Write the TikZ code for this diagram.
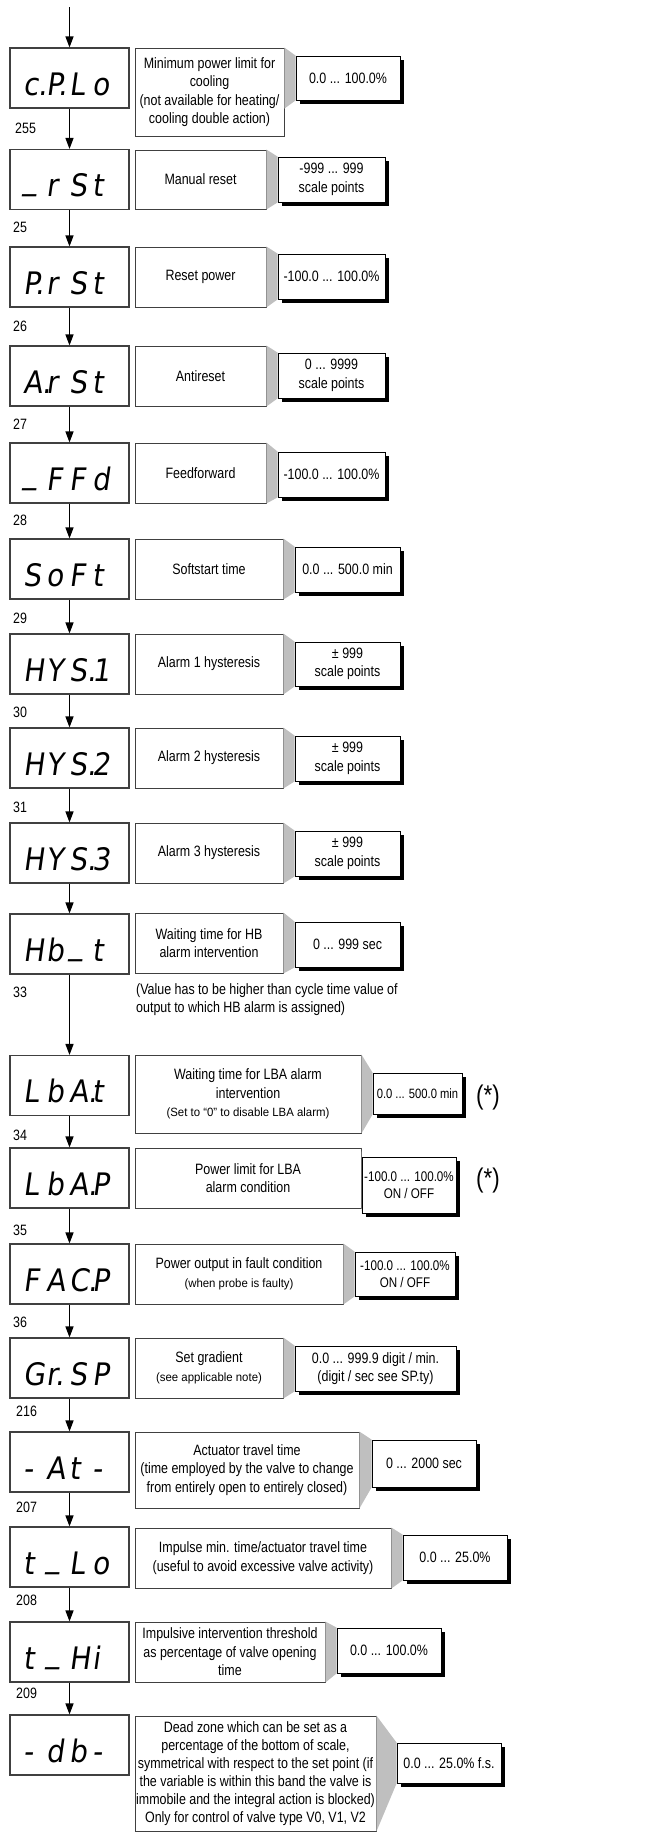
\documentclass[tikz,border=0pt]{standalone}
\usepackage{fontspec}
\setmainfont{Liberation Sans}[FakeStretch=0.83]
\newfontfamily\notefont{Liberation Sans}[FakeStretch=0.95]
\newfontfamily\segfont{DejaVu Sans}[FakeSlant=0.14,FakeStretch=0.9]
\usepackage{tikz}
\usetikzlibrary{arrows.meta,shadows}
\newcommand{\segd}[4]{{\segfont\fontsize{31}{31}\selectfont
  \makebox[23pt][l]{#1}\makebox[23pt][l]{#2}\makebox[23pt][l]{#3}\makebox[23pt][l]{#4}}}
\newcommand{\segbar}{\raisebox{0.22em}{\_}}
\newcommand{\smallnote}{\notefont\fontsize{12}{14}\selectfont}

\begin{document}
\begin{tikzpicture}[x=1pt,y=-1pt,line join=miter,
  disp/.style={draw=black!75,line width=1.1pt,fill=white,minimum width=119pt,minimum height=60pt,inner sep=0pt,text height=34pt,text depth=0pt},
  desc/.style={draw=black!75,line width=0.9pt,fill=white,inner sep=0pt,align=center,font=\fontsize{15}{18.5}\selectfont},
  val/.style={draw=black,line width=0.9pt,fill=white,inner sep=0pt,align=center,font=\fontsize{15}{18.5}\selectfont,
    drop shadow={shadow xshift=3.5pt,shadow yshift=-3.5pt,fill=black,opacity=1}},
  num/.style={anchor=west,inner sep=0pt,font=\fontsize{15}{18}\selectfont},
  link/.style={-{Triangle[length=11pt,width=8pt]},line width=1.3pt},
  wedge/.style={fill=black!25}]
  \useasboundingbox (0,0) rectangle (664,1832);
  \coordinate (entry) at (69.5,7);
  % c.P.Lo
  \node[disp] (d1) at (69.5,78) {\segd{c.}{P.}{L}{o}};
  \node[desc,minimum width=149pt,minimum height=88pt] (t1) at (209.5,92) {Minimum power limit for\\cooling\\(not available for heating/\\cooling double action)};
  \node[val,minimum width=104pt,minimum height=44pt] (v1) at (348,78) {0.0 ... 100.0\%};
  \node[num] (n1) at (15,128) {255};
  % _rSt
  \node[disp] (d2) at (69.5,179.5) {\segd{\segbar}{r}{S}{t}};
  \node[desc,minimum width=131pt,minimum height=59pt] (t2) at (200.5,179.5) {Manual reset};
  \node[val,minimum width=107pt,minimum height=45pt] (v2) at (331.5,179.5) {-999 ... 999\\scale points};
  \node[num] (n2) at (13,227) {25};
  % P.rSt
  \node[disp] (d3) at (69.5,277) {\segd{P.}{r}{S}{t}};
  \node[desc,minimum width=131pt,minimum height=60pt] (t3) at (200.5,277) {Reset power};
  \node[val,minimum width=107pt,minimum height=45pt] (v3) at (331.5,276.5) {-100.0 ... 100.0\%};
  \node[num] (n3) at (13,326) {26};
  % A.rSt
  \node[disp] (d4) at (69.5,376) {\segd{A.}{r}{S}{t}};
  \node[desc,minimum width=131pt,minimum height=60pt] (t4) at (200.5,376) {Antireset};
  \node[val,minimum width=107pt,minimum height=45pt] (v4) at (331.5,375.5) {0 ... 9999\\scale points};
  \node[num] (n4) at (13,424) {27};
  % _FFd
  \node[disp] (d5) at (69.5,473) {\segd{\segbar}{F}{F}{d}};
  \node[desc,minimum width=131pt,minimum height=60pt] (t5) at (200.5,473) {Feedforward};
  \node[val,minimum width=107pt,minimum height=45pt] (v5) at (331.5,474.5) {-100.0 ... 100.0\%};
  \node[num] (n5) at (13,520) {28};
  % SoFt
  \node[disp] (d6) at (69.5,569) {\segd{S}{o}{F}{t}};
  \node[desc,minimum width=148pt,minimum height=60pt] (t6) at (209,569) {Softstart time};
  \node[val,minimum width=105pt,minimum height=45pt] (v6) at (347.5,569.5) {0.0 ... 500.0 min};
  \node[num] (n6) at (13,618) {29};
  % HYS.1 - HYS.3
  \node[disp] (d7) at (69.5,664) {\segd{H}{Y}{S.}{1}};
  \node[desc,minimum width=148pt,minimum height=60pt] (t7) at (209,664) {Alarm 1 hysteresis};
  \node[val,minimum width=105pt,minimum height=44pt] (v7) at (347.5,664) {± 999\\scale points};
  \node[num] (n7) at (13,712) {30};
  \node[disp] (d8) at (69.5,758) {\segd{H}{Y}{S.}{2}};
  \node[desc,minimum width=148pt,minimum height=60pt] (t8) at (209,758) {Alarm 2 hysteresis};
  \node[val,minimum width=105pt,minimum height=45pt] (v8) at (347.5,758.5) {± 999\\scale points};
  \node[num] (n8) at (13,807) {31};
  \node[disp] (d9) at (69.5,853) {\segd{H}{Y}{S.}{3}};
  \node[desc,minimum width=148pt,minimum height=60pt] (t9) at (209,853) {Alarm 3 hysteresis};
  \node[val,minimum width=105pt,minimum height=45pt] (v9) at (347.5,853.5) {± 999\\scale points};
  % Hb_t
  \node[disp] (d10) at (69.5,944) {\segd{H}{b}{\segbar}{t}};
  \node[desc,minimum width=148pt,minimum height=60pt] (t10) at (209,943) {Waiting time for HB\\alarm intervention};
  \node[val,minimum width=105pt,minimum height=45pt] (v10) at (347.5,944.5) {0 ... 999 sec};
  \node[num] (n10) at (13,992) {33};
  \node[anchor=west,inner sep=0pt,align=left,font=\fontsize{15}{18}\selectfont] (hbnote) at (136,1000) {(Value has to be higher than cycle time value of\\output to which HB alarm is assigned)};
  % LbA.t
  \node[disp] (d11) at (69.5,1085.5) {\segd{L}{b}{A.}{t}};
  \node[desc,minimum width=226pt,minimum height=78pt] (t11) at (248,1094) {Waiting time for LBA alarm\\intervention\\{\smallnote (Set to “0” to disable LBA alarm)}};
  \node[val,minimum width=89pt,minimum height=41pt,font=\fontsize{13.5}{16}\selectfont] (v11) at (417.5,1093.5) {0.0 ... 500.0 min};
  \node[inner sep=0pt,font=\fontsize{27}{27}\selectfont] (star1) at (488,1097) {(*)};
  \node[num] (n11) at (13,1135) {34};
  % LbA.P
  \node[disp] (d12) at (69.5,1178) {\segd{L}{b}{A.}{P}};
  \node[desc,minimum width=226pt,minimum height=60pt] (t12) at (248,1178) {Power limit for LBA\\alarm condition};
  \node[val,minimum width=94pt,minimum height=56pt,font=\fontsize{14}{17.5}\selectfont] (v12) at (409,1185) {-100.0 ... 100.0\%\\ON / OFF};
  \node[inner sep=0pt,font=\fontsize{27}{27}\selectfont] (star2) at (488,1180) {(*)};
  \node[num] (n12) at (13,1230) {35};
  % FAC.P
  \node[disp] (d13) at (69.5,1274) {\segd{F}{A}{C.}{P}};
  \node[desc,minimum width=208pt,minimum height=60pt] (t13) at (239,1274) {Power output in fault condition\\{\smallnote (when probe is faulty)}};
  \node[val,minimum width=100pt,minimum height=44pt,font=\fontsize{14}{17.5}\selectfont] (v13) at (405,1274) {-100.0 ... 100.0\%\\ON / OFF};
  \node[num] (n13) at (13,1322) {36};
  % Gr.SP
  \node[disp] (d14) at (69.5,1368) {\segd{G}{r.}{S}{P}};
  \node[desc,minimum width=148pt,minimum height=60pt] (t14) at (209,1368) {Set gradient\\{\smallnote (see applicable note)}};
  \node[val,minimum width=161pt,minimum height=45pt] (v14) at (375.5,1368.5) {0.0 ... 999.9 digit / min.\\(digit / sec see SP.ty)};
  \node[num] (n14) at (16,1411) {216};
  % -At-
  \node[disp] (d15) at (69.5,1462) {\segd{-}{A}{t}{-}};
  \node[desc,minimum width=224pt,minimum height=76pt] (t15) at (247,1470) {Actuator travel time\\(time employed by the valve to change\\from entirely open to entirely closed)};
  \node[val,minimum width=104pt,minimum height=47pt] (v15) at (424,1463.5) {0 ... 2000 sec};
  \node[num] (n15) at (16,1507) {207};
  % t_Lo
  \node[disp] (d16) at (69.5,1557) {\segd{t}{\segbar}{L}{o}};
  \node[desc,minimum width=256pt,minimum height=60pt] (t16) at (263,1558) {Impulse min. time/actuator travel time\\(useful to avoid excessive valve activity)};
  \node[val,minimum width=104pt,minimum height=45pt] (v16) at (455,1557.5) {0.0 ... 25.0\%};
  \node[num] (n16) at (16,1600) {208};
  % t_Hi
  \node[disp] (d17) at (69.5,1652) {\segd{t}{\segbar}{H}{i}};
  \node[desc,minimum width=190pt,minimum height=60pt] (t17) at (230,1652) {Impulsive intervention threshold\\as percentage of valve opening\\time};
  \node[val,minimum width=104pt,minimum height=45pt] (v17) at (389,1650.5) {0.0 ... 100.0\%};
  \node[num] (n17) at (16,1693) {209};
  % -db-
  \node[disp] (d18) at (69.5,1745) {\segd{-}{d}{b}{-}};
  \node[desc,minimum width=241pt,minimum height=115pt,font=\fontsize{15}{18}\selectfont] (t18) at (255.5,1773.5) {Dead zone which can be set as a\\percentage of the bottom of scale,\\symmetrical with respect to the set point (if\\the variable is within this band the valve is\\immobile and the integral action is blocked)\\Only for control of valve type V0, V1, V2};
  \node[val,minimum width=104pt,minimum height=40pt] (v18) at (449,1763) {0.0 ... 25.0\% f.s.};
  % grey wedges between description and value
  \fill[wedge] (t1.north east) -- (v1.north west) -- (v1.south west) -- (t1.east |- d1.south) -- cycle;
  \foreach \i in {2,...,18}
    \fill[wedge] (t\i.north east) -- (v\i.north west) -- (v\i.south west) -- (t\i.south east) -- cycle;
  % flow
  \draw[link] (entry) -- (d1.north);
  \foreach \i [evaluate=\i as \j using int(\i+1)] in {1,...,17}
    \draw[link] (d\i.south) -- (d\j.north);
\end{tikzpicture}
\end{document}
